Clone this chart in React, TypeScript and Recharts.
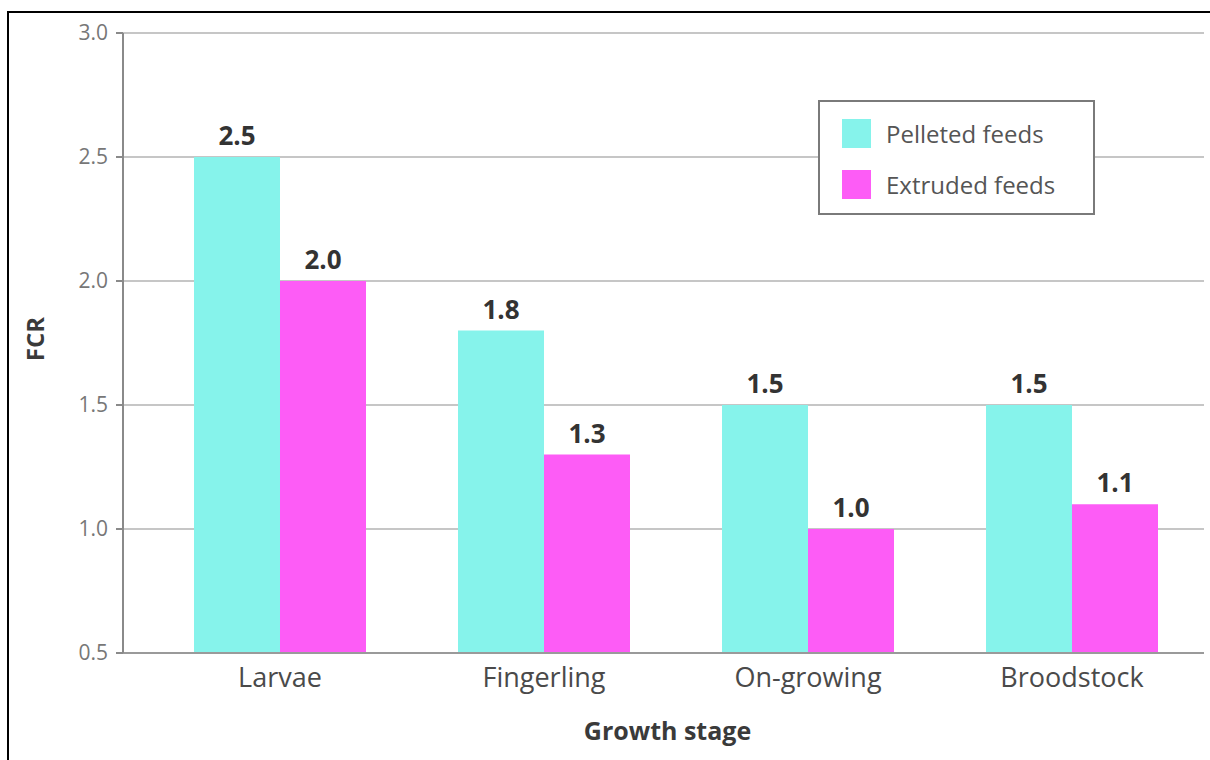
import React from 'react';
import {
  BarChart,
  Bar,
  XAxis,
  YAxis,
  CartesianGrid,
  Legend,
  LabelList,
} from 'recharts';

// Growth stages along the x axis
const stages = ['Larvae', 'Fingerling', 'On-growing', 'Broodstock'];
// Feed conversion ratio per stage
const pelletedFcr = [2.5, 1.8, 1.5, 1.5];
const extrudedFcr = [2.0, 1.3, 1.0, 1.1];
// Y axis tick values
const fcrTicks = [0.5, 1.0, 1.5, 2.0, 2.5, 3.0];
// Series names, in legend order
const seriesNames = ['Pelleted feeds', 'Extruded feeds'];

const PELLETED_COLOR = '#86F3EB';
const EXTRUDED_COLOR = '#FD5CF6';
const FONT = '"Open Sans", "Noto Sans", sans-serif';

const data = stages.map((stage, i) => ({
  stage,
  pelleted: pelletedFcr[i],
  extruded: extrudedFcr[i],
}));

const fmt = (v: number | string) => Number(v).toFixed(1);

const LegendBox = (props: any) => {
  const items = [...(props.payload || [])].sort(
    (a: any, b: any) => seriesNames.indexOf(a.value) - seriesNames.indexOf(b.value)
  );
  return (
    <div
      style={{
        width: 273,
        height: 111,
        border: '2px solid #7a7a7a',
        background: '#fff',
        boxSizing: 'content-box',
        fontFamily: FONT,
        position: 'relative',
      }}
    >
      {items.map((it: any, i: number) => (
        <div
          key={it.value}
          style={{
            position: 'absolute',
            left: 22,
            top: 17 + i * 51,
            display: 'flex',
            alignItems: 'center',
          }}
        >
          <span
            style={{
              display: 'inline-block',
              width: 29,
              height: 29,
              background: it.color,
            }}
          />
          <span
            style={{
              marginLeft: 15,
              fontSize: 24,
              color: '#555',
              lineHeight: '29px',
              whiteSpace: 'nowrap',
            }}
          >
            {it.value}
          </span>
        </div>
      ))}
    </div>
  );
};

const YTitle = (props: any) => {
  const vb = props.viewBox || {};
  const cx = 34;
  const cy = vb.y + vb.height / 2 - 4;
  return (
    <text
      x={cx}
      y={cy}
      transform={`rotate(-90 ${cx} ${cy})`}
      textAnchor="middle"
      dominantBaseline="central"
      fontFamily={FONT}
      fontWeight={700}
      fontSize={24}
      fill="#3a3a3a"
    >
      FCR
    </text>
  );
};

const XTitle = (props: any) => {
  const vb = props.viewBox || {};
  const cx = vb.x + vb.width / 2 + 4;
  return (
    <text
      x={cx}
      y={740}
      textAnchor="middle"
      fontFamily={FONT}
      fontWeight={700}
      fontSize={25}
      fill="#3a3a3a"
    >
      Growth stage
    </text>
  );
};

const valueLabelStyle = {
  fontFamily: FONT,
  fontSize: 26,
  fontWeight: 700,
  fill: '#333',
};

export default function App() {
  return (
    <div
      style={{
        position: 'absolute',
        left: 0,
        top: 0,
        width: 1210,
        height: 760,
        background: '#fff',
        overflow: 'hidden',
      }}
    >
      <div
        style={{
          position: 'absolute',
          left: 7,
          top: 11,
          width: 1300,
          height: 800,
          borderTop: '2px solid #000',
          borderLeft: '2px solid #000',
        }}
      />
      <div style={{ position: 'absolute', left: 0, top: 0 }}>
        <BarChart
          width={1210}
          height={760}
          data={data}
          margin={{ top: 33, right: 6, bottom: 47, left: 0 }}
          barGap={0}
          barSize={86}
        >
          <CartesianGrid
            horizontal
            vertical={false}
            stroke="#c6c6c6"
            strokeWidth={2}
          />
          <XAxis
            dataKey="stage"
            height={60}
            padding={{ left: 25, right: 0 }}
            axisLine={{ stroke: '#9a9a9a', strokeWidth: 2 }}
            tickLine={false}
            tickSize={6}
            tickMargin={9}
            tick={{ fontFamily: FONT, fontSize: 27, fill: '#4a4a4a' }}
            label={<XTitle />}
          />
          <YAxis
            width={123}
            domain={[0.5, 3.0]}
            ticks={fcrTicks}
            tickFormatter={fmt}
            allowDataOverflow
            axisLine={{ stroke: '#8a8a8a', strokeWidth: 2 }}
            tickLine={{ stroke: '#8a8a8a', strokeWidth: 2 }}
            tickSize={7}
            tickMargin={8}
            tick={{ fontFamily: FONT, fontSize: 21, fill: '#777' }}
            label={<YTitle />}
          />
          <Legend
            layout="vertical"
            align="center"
            verticalAlign="middle"
            content={<LegendBox />}
            wrapperStyle={{ left: 818, top: 100, width: 277, height: 115 }}
          />
          <Bar
            dataKey="pelleted"
            name={seriesNames[0]}
            fill={PELLETED_COLOR}
            isAnimationActive={false}
          >
            <LabelList
              dataKey="pelleted"
              position="top"
              offset={12}
              formatter={fmt}
              style={valueLabelStyle}
            />
          </Bar>
          <Bar
            dataKey="extruded"
            name={seriesNames[1]}
            fill={EXTRUDED_COLOR}
            isAnimationActive={false}
          >
            <LabelList
              dataKey="extruded"
              position="top"
              offset={12}
              formatter={fmt}
              style={valueLabelStyle}
            />
          </Bar>
        </BarChart>
      </div>
    </div>
  );
}
